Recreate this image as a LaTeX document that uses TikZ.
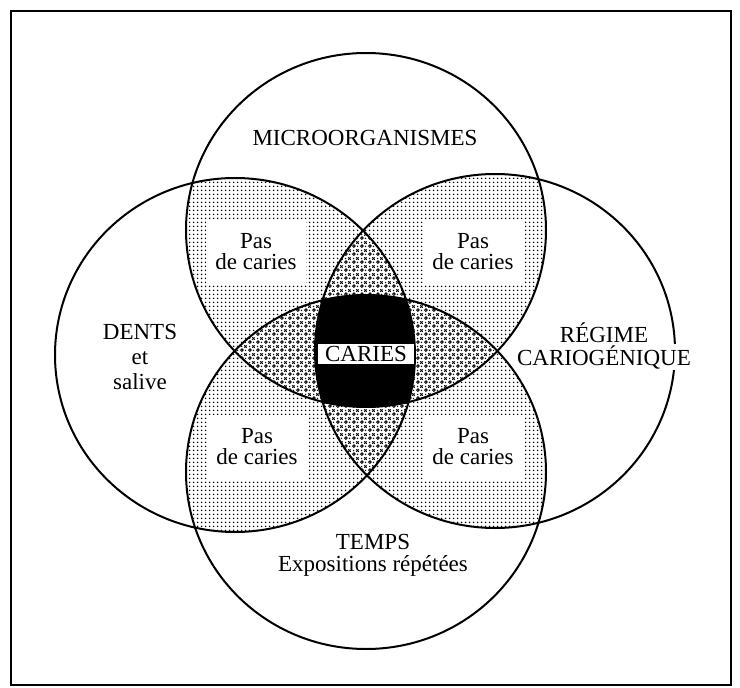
\documentclass[tikz,border=0pt]{standalone}
\usepackage{fontspec}
\setmainfont{Liberation Serif}
\usetikzlibrary{patterns.meta}

% light dots for the regions shared by two circles
\tikzdeclarepattern{
  name=finedots,
  type=uncolored,
  bottom left={(0pt,0pt)},
  top right={(4pt,4pt)},
  tile size={(4pt,4pt)},
  code={\pgfpathcircle{\pgfpoint{2pt}{2pt}}{1.05pt}\pgfusepath{fill}}
}
% rings and crosses for the regions shared by three circles
\tikzdeclarepattern{
  name=ringcross,
  type=uncolored,
  bottom left={(0pt,0pt)},
  top right={(8pt,8pt)},
  tile size={(8pt,8pt)},
  code={
    \pgfsetlinewidth{1pt}
    \pgfpathcircle{\pgfpoint{2.2pt}{2.2pt}}{1.5pt}\pgfusepath{stroke}
    \pgfpathmoveto{\pgfpoint{4.8pt}{4.8pt}}\pgfpathlineto{\pgfpoint{7.4pt}{7.4pt}}
    \pgfpathmoveto{\pgfpoint{4.8pt}{7.4pt}}\pgfpathlineto{\pgfpoint{7.4pt}{4.8pt}}
    \pgfusepath{stroke}
    \pgfpathcircle{\pgfpoint{6.2pt}{1.8pt}}{0.8pt}
    \pgfpathcircle{\pgfpoint{1.8pt}{6.2pt}}{0.8pt}\pgfusepath{fill}
  }
}

\begin{document}
\begin{tikzpicture}[x=1pt,y=-1pt,
  font=\fontsize{23}{24}\selectfont,
  lobe/.style={x radius=180,y radius=177},
  rim/.style={line width=2pt},
  nocaries/.style={fill=white,minimum width=100pt,minimum height=65pt,
    inner sep=0pt,font=\fontsize{23}{21}\selectfont},
  every node/.style={align=center}]

\useasboundingbox (0,0) rectangle (740,688);
\draw[line width=1.4pt] (11,11) rectangle (731,685);

%centres of the four circles
  \coordinate (T) at (366,230);
  \coordinate (B) at (366,472);
  \coordinate (L) at (235,355);
  \coordinate (R) at (495,351);

%two circles
  \foreach \a/\b in {T/L,T/R,B/L,B/R} {
    \begin{scope}
      \clip (\a) circle [lobe];
      \fill[pattern=finedots] (\b) circle [lobe];
    \end{scope} }

%three circles
  \foreach \a/\b/\c in {T/L/R,B/L/R,L/T/B,R/T/B} {
    \begin{scope}
      \clip (\a) circle [lobe];
      \clip (\b) circle [lobe];
      \fill[white] (\c) circle [lobe];
      \fill[pattern=ringcross] (\c) circle [lobe];
    \end{scope} }

%four circles
  \begin{scope}
    \clip (T) circle [lobe];
    \clip (L) circle [lobe];
    \clip (R) circle [lobe];
    \fill[black] (B) circle [lobe];
  \end{scope}

  \foreach \c in {T,B,L,R}
    \draw[rim] (\c) circle [lobe];

%labels
  \node (micro) at (365,138) {MICROORGANISMES};
  \node[font=\fontsize{23}{25}\selectfont] (dents) at (140,357) {DENTS\\et\\salive};
  \node (regime) at (604,333) {RÉGIME};
  \node[fill=white,inner sep=1pt] (cario) at (604,357) {CARIOGÉNIQUE};
  \node[font=\fontsize{23}{22}\selectfont] (temps) at (373,555) {TEMPS\\Expositions répétées};
  \node[fill=white,inner xsep=7pt,inner ysep=2pt] (caries) at (366,354) {CARIES};

  \node[nocaries] (pasTL) at (256,252) {Pas\\de caries};
  \node[nocaries] (pasTR) at (473,252) {Pas\\de caries};
  \node[nocaries] (pasBL) at (257,447) {Pas\\de caries};
  \node[nocaries] (pasBR) at (473,447) {Pas\\de caries};

\end{tikzpicture}
\end{document}
